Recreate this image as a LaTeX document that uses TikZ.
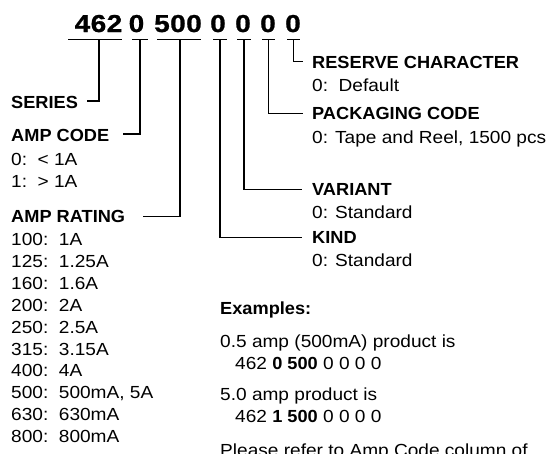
\documentclass[tikz,border=0pt]{standalone}
\usepackage{fontspec}
\setmainfont{Liberation Sans}
\newfontfamily\regf{Liberation Sans}[FakeStretch=1.09]
\newfontfamily\boldf{Liberation Sans}[FakeStretch=1.04]
\newfontfamily\titlef{Liberation Sans}[LetterSpace=2,FakeStretch=1.14,FakeBold=1]
\usetikzlibrary{calc}
\begin{document}
\tikzset{
  txt/.style={font=\regf\fontsize{17.5}{21}\selectfont, inner sep=0pt, anchor=base west},
  lbl/.style={font=\boldf\bfseries\fontsize{17.5}{21}\selectfont, inner sep=0pt, anchor=base west},
  ttl/.style={font=\titlef\bfseries\fontsize{24.5}{28}\selectfont, inner sep=0pt, anchor=base},
  uline/.style={line width=1.8pt},
  conn/.style={line width=1.3pt},
}
\begin{tikzpicture}[x=1pt,y=-1pt]
\clip (0,0) rectangle (553,453);
\fill[white] (0,0) rectangle (553,453);

% title groups
\node[ttl] (g1) at (98.5,32) {462};
\node[ttl] (g2) at (136.5,32) {0};
\node[ttl] (g3) at (178,32) {500};
\node[ttl] (g4) at (218,32) {0};
\node[ttl] (g5) at (243,32) {0};
\node[ttl] (g6) at (268,32) {0};
\node[ttl] (g7) at (293,32) {0};

% underline ends
\coordinate (a1) at (68,39.5);  \coordinate (b1) at (122,39.5);
\coordinate (a2) at (132,39.5); \coordinate (b2) at (148,39.5);
\coordinate (a3) at (157,39.5); \coordinate (b3) at (201,39.5);
\coordinate (a4) at (213,39.5); \coordinate (b4) at (227,39.5);
\coordinate (a5) at (237,39.5); \coordinate (b5) at (251,39.5);
\coordinate (a6) at (262,39.5); \coordinate (b6) at (275,39.5);
\coordinate (a7) at (287,39.5); \coordinate (b7) at (300,39.5);
\foreach \i in {1,...,7} \draw[uline] (a\i) -- (b\i);

% tick points
\coordinate (t1) at (99,39.5);
\coordinate (t2) at (140,39.5);
\coordinate (t3) at (180,39.5);
\coordinate (t4) at (220,39.5);
\coordinate (t5) at (244,39.5);
\coordinate (t6) at (268.5,39.5);
\coordinate (t7) at (293.5,39.5);

% connector free ends
\coordinate (e1) at (87,101);
\coordinate (e2) at (123,134);
\coordinate (e3) at (143,216.7);
\coordinate (e4) at (302,237.3);
\coordinate (e5) at (302,189.3);
\coordinate (e6) at (303,113.3);
\coordinate (e7) at (303,61.5);
\foreach \i in {1,...,7} \draw[conn] (t\i) |- (e\i);

% left column
\node[lbl] (series) at (11,108) {SERIES};
\node[lbl] (ampcode) at (11,141) {AMP CODE};
\node[txt] (ac0) at (11,165) {0:\ \ < 1A};
\node[txt] (ac1) at (11,187) {1:\ \ > 1A};
\node[lbl] (amprating) at (11,222.5) {AMP RATING};
\foreach \c/\v [count=\i] in {100/1A,125/1.25A,160/1.6A,200/2A,250/2.5A,315/3.15A,400/4A,500/{500mA, 5A},630/630mA,800/800mA}
  \node[txt] (r\i) at (11,{245.5+21.9*(\i-1)}) {\c:\ \ \v};

% right column
\node[lbl] (reserve) at (312,68) {RESERVE CHARACTER};
\node[txt] (reserved) at (312,91) {0:\ \ Default};
\node[lbl] (pack) at (312,119.5) {PACKAGING CODE};
\node[txt] (packd) at (312,143) {0: Tape and Reel, 1500 pcs};
\node[lbl] (variant) at (312,195.5) {VARIANT};
\node[txt] (variantd) at (312,218) {0: Standard};
\node[lbl] (kind) at (312,243.5) {KIND};
\node[txt] (kindd) at (312,266.5) {0: Standard};

% examples
\node[lbl] (ex) at (220,314.5) {Examples:};
\node[txt] (ex1) at (220,347.5) {0.5 amp (500mA) product is};
\node[txt] (ex1c) at (235,369) {462 {\boldf\bfseries 0 500} 0 0 0 0};
\node[txt] (ex2) at (220,400.5) {5.0 amp product is};
\node[txt] (ex2c) at (235,422) {462 {\boldf\bfseries 1 500} 0 0 0 0};
\node[txt] (note) at (220,456) {Please refer to Amp Code column of};
\end{tikzpicture}
\end{document}
